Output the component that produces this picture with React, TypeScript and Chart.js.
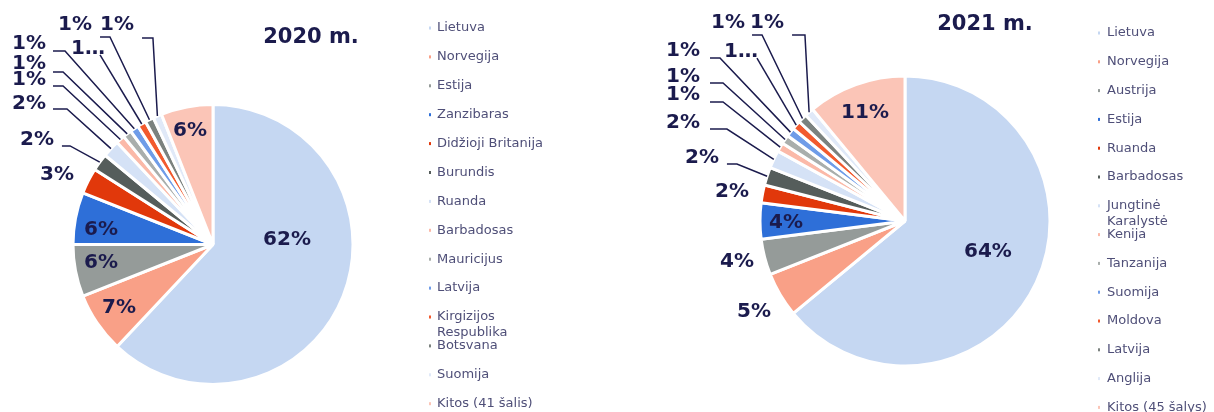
import React, { useEffect, useRef } from 'react';
import { Chart, registerables } from 'chart.js';

Chart.register(...registerables);

// ---------- DATA ----------
const categories2020 = [
  'Lietuva', 'Norvegija', 'Estija', 'Zanzibaras', 'Didžioji Britanija', 'Burundis', 'Ruanda',
  'Barbadosas', 'Mauricijus', 'Latvija', 'Kirgizijos Respublika', 'Botsvana', 'Suomija', 'Kitos (41 šalis)',
];
const values2020 = [62, 7, 6, 6, 3, 2, 2, 1, 1, 1, 1, 1, 1, 6];

const categories2021 = [
  'Lietuva', 'Norvegija', 'Austrija', 'Estija', 'Ruanda', 'Barbadosas', 'Jungtinė Karalystė',
  'Kenija', 'Tanzanija', 'Suomija', 'Moldova', 'Latvija', 'Anglija', 'Kitos (45 šalys)',
];
const values2021 = [64, 5, 4, 4, 2, 2, 2, 1, 1, 1, 1, 1, 1, 11];

const title2020 = '2020 m.';
const title2021 = '2021 m.';

// ---------- STYLE / LAYOUT ----------
const palette = [
  '#c5d7f2', '#f9a087', '#959b99', '#2e6fd8', '#e1380b', '#555d5b', '#d5e2f6',
  '#fbb9a8', '#a9aeac', '#6f9ce8', '#f25a2e', '#7b827f', '#e0e9f8', '#fbc5b7',
];

// label placement relative to pie centre, in units of radius
type Lbl = { x: number; y: number; lead?: [number, number, number]; short?: boolean };
const labelLayout2020: Lbl[] = [
  { x: 0.529, y: -0.032 },
  { x: -0.671, y: 0.454 },
  { x: -0.8, y: 0.132 },
  { x: -0.8, y: -0.104 },
  { x: -1.114, y: -0.496 },
  { x: -1.257, y: -0.746, lead: [-1.079, -1.021, -0.704] },
  { x: -1.314, y: -1.004, lead: [-1.143, -1.043, -0.968] },
  { x: -1.314, y: -1.175, lead: [-1.143, -1.071, -1.132] },
  { x: -1.314, y: -1.289, lead: [-1.143, -1.071, -1.232] },
  { x: -1.314, y: -1.432, lead: [-1.143, -1.057, -1.382] },
  { x: -0.893, y: -1.396, lead: [-0.807, -0.807, -1.354], short: true },
  { x: -0.986, y: -1.568, lead: [-0.807, -0.736, -1.482] },
  { x: -0.686, y: -1.568, lead: [-0.507, -0.429, -1.475] },
  { x: -0.164, y: -0.811 },
];
const labelLayout2021: Lbl[] = [
  { x: 0.572, y: 0.214 },
  { x: -1.041, y: 0.628 },
  { x: -1.159, y: 0.283 },
  { x: -0.821, y: 0.014 },
  { x: -1.193, y: -0.2 },
  { x: -1.4, y: -0.434, lead: [-1.228, -1.159, -0.393] },
  { x: -1.531, y: -0.676, lead: [-1.345, -1.228, -0.634] },
  { x: -1.531, y: -0.869, lead: [-1.345, -1.255, -0.821] },
  { x: -1.531, y: -0.993, lead: [-1.345, -1.255, -0.952] },
  { x: -1.531, y: -1.172, lead: [-1.345, -1.276, -1.124] },
  { x: -1.131, y: -1.166, lead: [-1.021, -1.021, -1.124], short: true },
  { x: -1.221, y: -1.366, lead: [-1.055, -0.986, -1.283] },
  { x: -0.952, y: -1.366, lead: [-0.779, -0.69, -1.283] },
  { x: -0.276, y: -0.745 },
];

const NAVY = '#1b1b4d';
const LEGEND_COLOR = '#4f4f78';

const decorPlugin = {
  id: 'pieDecor',
  afterDatasetsDraw(chart: any, _args: any, opts: any) {
    const ctx = chart.ctx;
    const meta = chart.getDatasetMeta(0);
    const ds = chart.data.datasets[0];
    const total = (ds.data as number[]).reduce((a: number, b: number) => a + b, 0);
    ctx.save();
    let cx = 0, cy = 0, R = 0;
    meta.data.forEach((arc: any, i: number) => {
      const p = arc.getProps(['x', 'y', 'startAngle', 'endAngle', 'outerRadius'], true);
      cx = p.x; cy = p.y; R = p.outerRadius;
      const lay: Lbl = opts.layout[i];
      if (!lay) return;
      const pct = Math.round((ds.data[i] / total) * 100);
      let text = pct + '%';
      if (lay.short) text = String(pct).charAt(0) + '…';
      const lx = p.x + lay.x * R;
      const ly = p.y + lay.y * R;
      if (lay.lead) {
        const mid = (p.startAngle + p.endAngle) / 2;
        const ex = p.x + Math.cos(mid) * R;
        const ey = p.y + Math.sin(mid) * R;
        ctx.strokeStyle = NAVY;
        ctx.lineWidth = 1.5;
        ctx.beginPath();
        ctx.moveTo(p.x + lay.lead[0] * R, p.y + lay.lead[2] * R);
        ctx.lineTo(p.x + lay.lead[1] * R, p.y + lay.lead[2] * R);
        ctx.lineTo(ex, ey);
        ctx.stroke();
      }
      ctx.fillStyle = NAVY;
      ctx.font = 'bold 20px "DejaVu Sans"';
      ctx.textAlign = 'center';
      ctx.textBaseline = 'middle';
      ctx.fillText(text, lx, ly);
    });

    // title
    ctx.fillStyle = NAVY;
    ctx.font = 'bold 21px "DejaVu Sans"';
    ctx.textAlign = 'center';
    ctx.textBaseline = 'middle';
    ctx.fillText(opts.title, cx + opts.titlePos[0] * R, cy + opts.titlePos[1] * R);

    // legend
    ctx.font = '13px "DejaVu Sans"';
    ctx.textAlign = 'left';
    ctx.textBaseline = 'middle';
    const labels = chart.data.labels as string[];
    labels.forEach((lab: string, i: number) => {
      const y = opts.legend.top + i * opts.legend.step;
      ctx.fillStyle = (ds.backgroundColor as string[])[i];
      ctx.fillRect(opts.legend.dotX - 1, y - 1.5, 2, 3);
      ctx.fillStyle = LEGEND_COLOR;
      const words = lab.split(' ');
      const lines: string[] = [];
      let cur = '';
      words.forEach((w) => {
        const t = cur ? cur + ' ' + w : w;
        if (cur && ctx.measureText(t).width > opts.legend.maxWidth) {
          lines.push(cur);
          cur = w;
        } else cur = t;
      });
      if (cur) lines.push(cur);
      lines.forEach((ln, k) => ctx.fillText(ln, opts.legend.textX, y + k * 15.5));
    });
    ctx.restore();
  },
};

function PieChart(props: {
  labels: string[]; values: number[]; layout: Lbl[]; title: string; titlePos: [number, number];
  radius: number; padding: any; legend: any;
}) {
  const ref = useRef<HTMLCanvasElement>(null);
  useEffect(() => {
    if (!ref.current) return;
    const chart = new Chart(ref.current, {
      type: 'pie',
      data: {
        labels: props.labels,
        datasets: [{
          data: props.values,
          backgroundColor: palette,
          borderColor: '#ffffff',
          borderWidth: 3,
          radius: props.radius,
          hoverOffset: 0,
        } as any],
      },
      options: {
        responsive: false,
        animation: false,
        devicePixelRatio: 1,
        events: [],
        layout: { padding: props.padding },
        plugins: {
          legend: { display: false },
          tooltip: { enabled: false },
          pieDecor: { layout: props.layout, title: props.title, titlePos: props.titlePos, legend: props.legend },
        } as any,
      },
      plugins: [decorPlugin],
    });
    return () => chart.destroy();
  }, []);
  return <canvas ref={ref} width={607} height={412} style={{ display: 'block', width: 607, height: 412 }} />;
}

export default function App() {
  return (
    <div style={{ position: 'absolute', left: 0, top: 0, width: 1214, height: 412, display: 'flex', background: '#fff' }}>
      <PieChart
        labels={categories2020}
        values={values2020}
        layout={labelLayout2020}
        title={title2020}
        titlePos={[0.7, -1.475]}
        radius={140}
        padding={{ left: 73, right: 254, top: 104.5, bottom: 27.5 }}
        legend={{ dotX: 430, textX: 437, top: 28, step: 28.9, maxWidth: 112 }}
      />
      <PieChart
        labels={categories2021}
        values={values2021}
        layout={labelLayout2021}
        title={title2021}
        titlePos={[0.552, -1.352]}
        radius={145}
        padding={{ left: 153, right: 164, top: 76, bottom: 46 }}
        legend={{ dotX: 492, textX: 500, top: 33, step: 28.8, maxWidth: 112 }}
      />
    </div>
  );
}
